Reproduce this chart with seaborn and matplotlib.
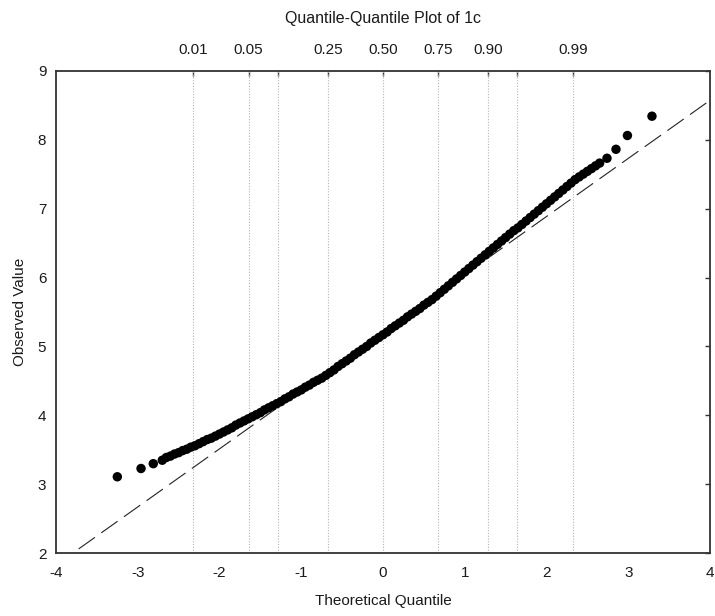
import matplotlib
matplotlib.use("Agg")
import matplotlib.pyplot as plt
import seaborn as sns
import pandas as pd

# ---- data ----
theoretical_q = [
    -3.25, -2.96, -2.81, -2.70,
    -2.65, -2.60, -2.55, -2.50, -2.45, -2.40, -2.35, -2.30,
    -2.25, -2.20, -2.15, -2.10, -2.05, -2.00,
    -1.95, -1.90, -1.85, -1.80, -1.75, -1.70, -1.65, -1.60, -1.55, -1.50,
    -1.45, -1.40, -1.35, -1.30, -1.25, -1.20, -1.15, -1.10, -1.05, -1.00,
    -0.95, -0.90, -0.85, -0.80, -0.75, -0.70, -0.65, -0.60, -0.55, -0.50,
    -0.45, -0.40, -0.35, -0.30, -0.25, -0.20, -0.15, -0.10, -0.05, 0.00,
    0.05, 0.10, 0.15, 0.20, 0.25, 0.30, 0.35, 0.40, 0.45, 0.50,
    0.55, 0.60, 0.65, 0.70, 0.75, 0.80, 0.85, 0.90, 0.95, 1.00,
    1.05, 1.10, 1.15, 1.20, 1.25, 1.30, 1.35, 1.40, 1.45, 1.50,
    1.55, 1.60, 1.65, 1.70, 1.75, 1.80, 1.85, 1.90, 1.95, 2.00,
    2.05, 2.10, 2.15, 2.20, 2.25, 2.30, 2.35, 2.40, 2.45, 2.50,
    2.55, 2.60, 2.65,
    2.74, 2.85, 2.99, 3.29,
]
observed = [
    3.11, 3.23, 3.30, 3.35,
    3.39, 3.41, 3.44, 3.46, 3.49, 3.51, 3.54, 3.56,
    3.59, 3.62, 3.65, 3.67, 3.70, 3.73,
    3.76, 3.79, 3.82, 3.86, 3.89, 3.92, 3.95, 3.98, 4.01, 4.04,
    4.08, 4.11, 4.14, 4.17, 4.20, 4.24, 4.27, 4.31, 4.34, 4.37,
    4.41, 4.44, 4.48, 4.51, 4.54, 4.58, 4.62, 4.66, 4.71, 4.75,
    4.79, 4.83, 4.88, 4.92, 4.96, 5.00, 5.05, 5.09, 5.13, 5.17,
    5.21, 5.26, 5.30, 5.34, 5.38, 5.43, 5.47, 5.51, 5.55, 5.60,
    5.64, 5.68, 5.73, 5.78, 5.83, 5.88, 5.93, 5.98, 6.03, 6.08,
    6.13, 6.18, 6.23, 6.28, 6.33, 6.38, 6.43, 6.48, 6.53, 6.58,
    6.63, 6.68, 6.72, 6.77, 6.82, 6.87, 6.92, 6.97, 7.02, 7.07,
    7.12, 7.17, 7.22, 7.27, 7.32, 7.37, 7.42, 7.46, 7.50, 7.54,
    7.58, 7.62, 7.66,
    7.73, 7.86, 8.06, 8.34,
]
ref_line_x = [-4.0, 4.0]
ref_line_y = [1.83, 8.57]

prob_labels = ["0.01", "0.05", "", "0.25", "0.50", "0.75", "0.90", "", "0.99"]
prob_positions = [-2.326, -1.645, -1.282, -0.674, 0.0, 0.674, 1.282, 1.645, 2.326]

x_ticks = [-4, -3, -2, -1, 0, 1, 2, 3, 4]
y_ticks = [2, 3, 4, 5, 6, 7, 8, 9]

title = "Quantile-Quantile Plot of 1c"
x_label = "Theoretical Quantile"
y_label = "Observed Value"

# ---- style ----
sns.set_style("white")
plt.rcParams["font.family"] = ["Liberation Sans", "DejaVu Sans"]

fig = plt.figure(figsize=(7.15, 6.16), dpi=100)
ax = fig.add_axes([56 / 715, 1 - 553.3 / 616, (710 - 56) / 715, (553.3 - 70.7) / 616])

df = pd.DataFrame({"q": theoretical_q, "v": observed})
ref = pd.DataFrame({"x": ref_line_x, "y": ref_line_y})

# vertical dotted probability lines
for p in prob_positions:
    ax.axvline(p, color="#b4b4b4", lw=0.8, ls=(0, (1, 1.5)), zorder=1)

sns.lineplot(data=ref, x="x", y="y", ax=ax, color="#222222", lw=0.8, zorder=2)
ax.lines[-1].set_dashes((18, 7))

sns.scatterplot(data=df, x="q", y="v", ax=ax, color="black", s=46,
                linewidth=0, edgecolor="none", zorder=3)

ax.set_xlim(-4, 4)
ax.set_ylim(2, 9)
ax.set_xticks(x_ticks)
ax.set_yticks(y_ticks)
ax.set_xticklabels([str(t) for t in x_ticks])
ax.set_yticklabels([str(t) for t in y_ticks])

ax.tick_params(axis="both", direction="in", length=3.5, width=1, color="#333333",
               labelsize=11, labelcolor="#1a1a1a", right=True)
ax.tick_params(axis="x", pad=9)
ax.tick_params(axis="y", pad=7)

for s in ax.spines.values():
    s.set_visible(True)
    s.set_color("#333333")
    s.set_linewidth(1.3)

ax.set_xlabel(x_label, fontsize=11, labelpad=10, color="#1a1a1a")
ax.set_ylabel(y_label, fontsize=11, labelpad=8, color="#1a1a1a")

top = ax.secondary_xaxis("top")
top.set_xticks(prob_positions)
top.set_xticklabels(prob_labels)
top.tick_params(direction="in", length=3.5, width=1, color="#333333",
                labelsize=11, labelcolor="#1a1a1a", pad=10)
top.spines["top"].set_visible(False)

fig.text(383 / 715, 1 - 18 / 616, title, ha="center", va="center",
         fontsize=11.5, color="#1a1a1a")

fig.savefig("out.png", dpi=100, facecolor="white")
